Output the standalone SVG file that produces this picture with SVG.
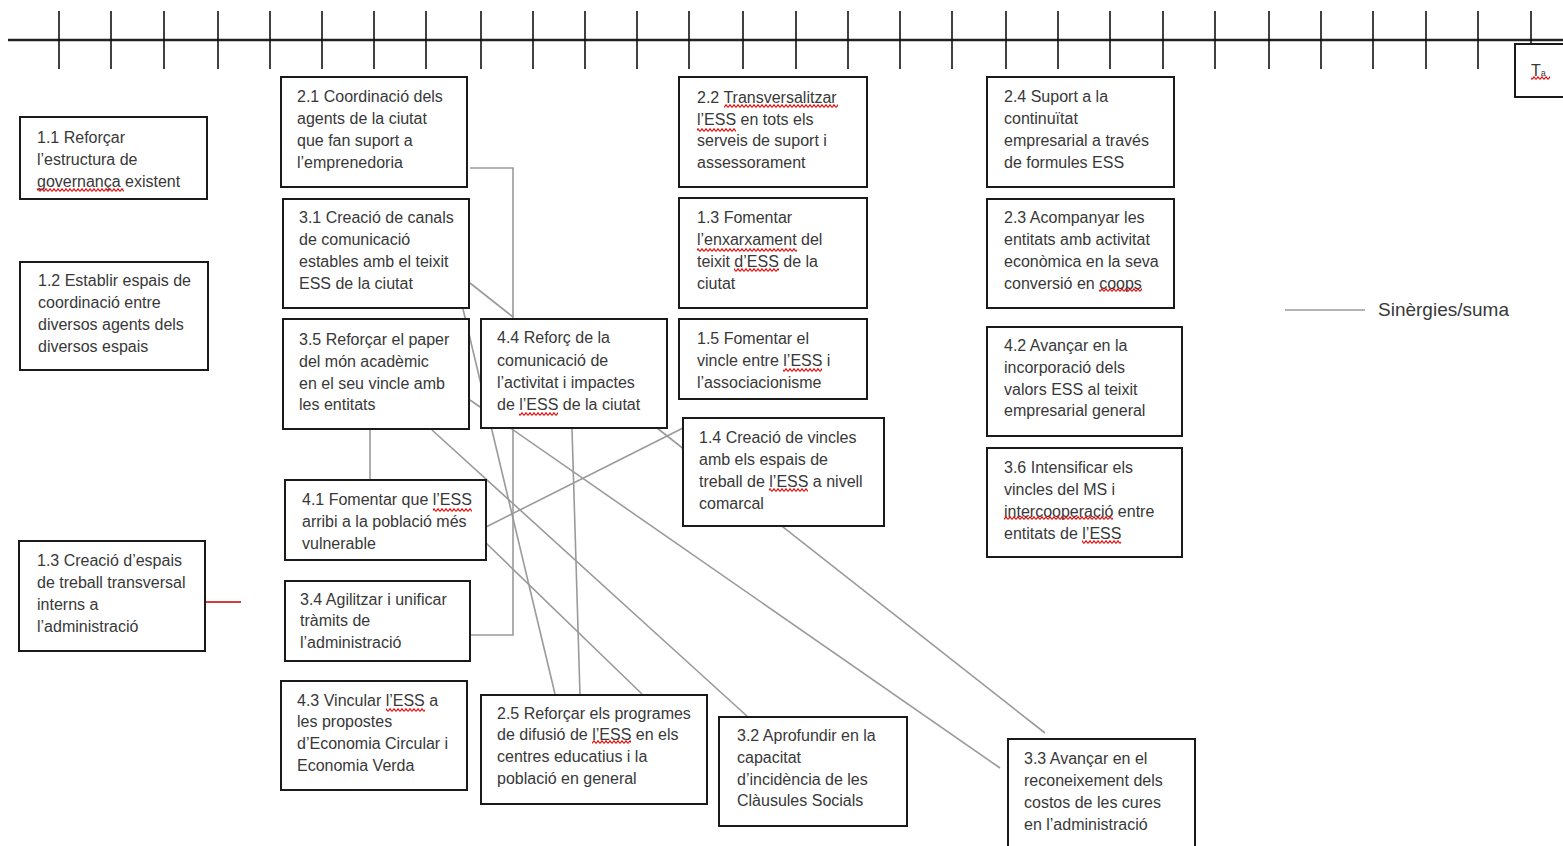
<svg xmlns="http://www.w3.org/2000/svg" width="1563" height="846" viewBox="0 0 1563 846">
<style>
.bg{fill:#ffffff}
.box{fill:#ffffff;stroke:#1a1a1a;stroke-width:2}
.t{font-family:"Liberation Sans",Arial,sans-serif;font-size:16px;fill:#383838}
.lg{font-family:"Liberation Sans",Arial,sans-serif;font-size:19px;fill:#383838}
.tick{stroke:#111;stroke-width:1.6}
.axis{stroke:#222;stroke-width:2.6}
.con{stroke:#9a9a9a;stroke-width:1.6;fill:none}
.red{stroke:#c00000;stroke-width:1.6}
.sq{fill:url(#wave)}
</style>
<defs>
<pattern id="wave" width="4" height="4" patternUnits="userSpaceOnUse">
<path d="M0,3.5 L2,0.8 L4,3.5" stroke="#e01010" stroke-width="1.2" fill="none"/>
</pattern>
</defs>
<rect class="bg" x="0" y="0" width="1563" height="846"/>

<g id="timeline">
<line class="axis" x1="8" y1="40" x2="1563" y2="40"/>
<g class="ticks">
<line class="tick" x1="59" y1="11" x2="59" y2="69"/>
<line class="tick" x1="111" y1="11" x2="111" y2="69"/>
<line class="tick" x1="164" y1="11" x2="164" y2="69"/>
<line class="tick" x1="218" y1="11" x2="218" y2="69"/>
<line class="tick" x1="270" y1="11" x2="270" y2="69"/>
<line class="tick" x1="322" y1="11" x2="322" y2="69"/>
<line class="tick" x1="374" y1="11" x2="374" y2="69"/>
<line class="tick" x1="426" y1="11" x2="426" y2="69"/>
<line class="tick" x1="481" y1="11" x2="481" y2="69"/>
<line class="tick" x1="533" y1="11" x2="533" y2="69"/>
<line class="tick" x1="585" y1="11" x2="585" y2="69"/>
<line class="tick" x1="637" y1="11" x2="637" y2="69"/>
<line class="tick" x1="689" y1="11" x2="689" y2="69"/>
<line class="tick" x1="743" y1="11" x2="743" y2="69"/>
<line class="tick" x1="796" y1="11" x2="796" y2="69"/>
<line class="tick" x1="848" y1="11" x2="848" y2="69"/>
<line class="tick" x1="900" y1="11" x2="900" y2="69"/>
<line class="tick" x1="952" y1="11" x2="952" y2="69"/>
<line class="tick" x1="1006" y1="11" x2="1006" y2="69"/>
<line class="tick" x1="1058" y1="11" x2="1058" y2="69"/>
<line class="tick" x1="1110" y1="11" x2="1110" y2="69"/>
<line class="tick" x1="1163" y1="11" x2="1163" y2="69"/>
<line class="tick" x1="1215" y1="11" x2="1215" y2="69"/>
<line class="tick" x1="1269" y1="11" x2="1269" y2="69"/>
<line class="tick" x1="1321" y1="11" x2="1321" y2="69"/>
<line class="tick" x1="1373" y1="11" x2="1373" y2="69"/>
<line class="tick" x1="1426" y1="11" x2="1426" y2="69"/>
<line class="tick" x1="1478" y1="11" x2="1478" y2="69"/>
<line class="tick" x1="1531" y1="11" x2="1531" y2="45"/>
</g>
</g>

<g id="connectors">
<polyline class="con" points="470,168 513,168 513,318"/>
<line class="con" x1="470" y1="283" x2="513" y2="317"/>
<line class="con" x1="463" y1="309" x2="555" y2="694"/>
<line class="con" x1="470" y1="400" x2="1000" y2="768"/>
<line class="con" x1="370" y1="429" x2="370" y2="480"/>
<line class="con" x1="432" y1="430" x2="748" y2="717"/>
<line class="con" x1="486" y1="527" x2="683" y2="428"/>
<line class="con" x1="486" y1="543" x2="642" y2="694"/>
<polyline class="con" points="470,635 513,635 513,429"/>
<line class="con" x1="572" y1="429" x2="580" y2="695"/>
<line class="con" x1="657" y1="428" x2="1045" y2="733"/>
<line class="red" x1="206" y1="602" x2="241" y2="602"/>
</g>

<g id="n11"><rect class="box" x="20" y="117" width="187" height="82"/>
<text class="t"><tspan x="37" y="143">1.1 Reforçar</tspan><tspan x="37" y="165">l’estructura de</tspan><tspan x="37" y="187">governança existent</tspan></text>
<rect class="sq" x="37" y="188" width="87" height="4"/></g>

<g id="n21"><rect class="box" x="281" y="77" width="186" height="110"/>
<text class="t"><tspan x="297" y="102">2.1 Coordinació dels</tspan><tspan x="297" y="124">agents de la ciutat</tspan><tspan x="297" y="146">que fan suport a</tspan><tspan x="297" y="168">l’emprenedoria</tspan></text></g>

<g id="n31"><rect class="box" x="283" y="199" width="186" height="109"/>
<text class="t"><tspan x="299" y="223">3.1 Creació de canals</tspan><tspan x="299" y="245">de comunicació</tspan><tspan x="299" y="267">estables amb el teixit</tspan><tspan x="299" y="289">ESS de la ciutat</tspan></text></g>

<g id="n12"><rect class="box" x="20" y="262" width="188" height="108"/>
<text class="t"><tspan x="38" y="286">1.2 Establir espais de</tspan><tspan x="38" y="308">coordinació entre</tspan><tspan x="38" y="330">diversos agents dels</tspan><tspan x="38" y="352">diversos espais</tspan></text></g>

<g id="n35"><rect class="box" x="283" y="319" width="186" height="110"/>
<text class="t"><tspan x="299" y="345">3.5 Reforçar el paper</tspan><tspan x="299" y="367">del món acadèmic</tspan><tspan x="299" y="389">en el seu  vincle amb</tspan><tspan x="299" y="410">les entitats</tspan></text></g>

<g id="n44"><rect class="box" x="481" y="319" width="186" height="109"/>
<text class="t"><tspan x="497" y="343">4.4 Reforç de la</tspan><tspan x="497" y="366">comunicació de</tspan><tspan x="497" y="388">l’activitat i impactes</tspan><tspan x="497" y="410">de l’ESS de la ciutat</tspan></text>
<rect class="sq" x="519" y="412" width="39" height="4"/></g>

<g id="n22"><rect class="box" x="679" y="77" width="188" height="110"/>
<text class="t"><tspan x="697" y="103">2.2 Transversalitzar</tspan><tspan x="697" y="125">l’ESS en tots els</tspan><tspan x="697" y="146">serveis de suport i</tspan><tspan x="697" y="168">assessorament</tspan></text>
<rect class="sq" x="724" y="104" width="114" height="4"/>
<rect class="sq" x="697" y="128" width="39" height="4"/></g>

<g id="n13b"><rect class="box" x="679" y="198" width="188" height="110"/>
<text class="t"><tspan x="697" y="223">1.3 Fomentar</tspan><tspan x="697" y="245">l’enxarxament del</tspan><tspan x="697" y="267">teixit d’ESS de la</tspan><tspan x="697" y="289">ciutat</tspan></text>
<rect class="sq" x="697" y="248" width="100" height="4"/>
<rect class="sq" x="734" y="268" width="45" height="4"/></g>

<g id="n15"><rect class="box" x="679" y="319" width="188" height="80"/>
<text class="t"><tspan x="697" y="344">1.5 Fomentar el</tspan><tspan x="697" y="366">vincle entre l’ESS i</tspan><tspan x="697" y="388">l’associacionisme</tspan></text>
<rect class="sq" x="783" y="368" width="39" height="4"/></g>

<g id="n14"><rect class="box" x="683" y="418" width="201" height="108"/>
<text class="t"><tspan x="699" y="443">1.4 Creació de vincles</tspan><tspan x="699" y="465">amb els espais de</tspan><tspan x="699" y="487">treball de l’ESS a nivell</tspan><tspan x="699" y="509">comarcal</tspan></text>
<rect class="sq" x="769" y="488" width="39" height="4"/></g>

<g id="n24"><rect class="box" x="987" y="77" width="187" height="110"/>
<text class="t"><tspan x="1004" y="102">2.4 Suport a la</tspan><tspan x="1004" y="124">continuïtat</tspan><tspan x="1004" y="146">empresarial a través</tspan><tspan x="1004" y="168">de formules ESS</tspan></text></g>

<g id="n23"><rect class="box" x="987" y="199" width="187" height="109"/>
<text class="t"><tspan x="1004" y="223">2.3 Acompanyar les</tspan><tspan x="1004" y="245">entitats amb activitat</tspan><tspan x="1004" y="267">econòmica en la seva</tspan><tspan x="1004" y="289">conversió en coops</tspan></text>
<rect class="sq" x="1099" y="288" width="43" height="4"/></g>

<g id="n42"><rect class="box" x="987" y="327" width="195" height="109"/>
<text class="t"><tspan x="1004" y="351">4.2 Avançar en la</tspan><tspan x="1004" y="373">incorporació dels</tspan><tspan x="1004" y="395">valors ESS al teixit</tspan><tspan x="1004" y="416">empresarial general</tspan></text></g>

<g id="n36"><rect class="box" x="987" y="448" width="195" height="109"/>
<text class="t"><tspan x="1004" y="473">3.6 Intensificar els</tspan><tspan x="1004" y="495">vincles del MS i</tspan><tspan x="1004" y="517">intercooperació entre</tspan><tspan x="1004" y="539">entitats de l’ESS</tspan></text>
<rect class="sq" x="1004" y="516" width="109" height="4"/>
<rect class="sq" x="1082" y="540" width="39" height="4"/></g>

<g id="n41"><rect class="box" x="285" y="480" width="201" height="80"/>
<text class="t"><tspan x="302" y="505">4.1 Fomentar que l’ESS</tspan><tspan x="302" y="527">arribi a la població més</tspan><tspan x="302" y="549">vulnerable</tspan></text>
<rect class="sq" x="433" y="508" width="39" height="4"/></g>

<g id="n13a"><rect class="box" x="19" y="541" width="186" height="110"/>
<text class="t"><tspan x="37" y="566">1.3 Creació d’espais</tspan><tspan x="37" y="588">de treball transversal</tspan><tspan x="37" y="610">interns a</tspan><tspan x="37" y="632">l’administració</tspan></text></g>

<g id="n34"><rect class="box" x="285" y="581" width="185" height="80"/>
<text class="t"><tspan x="300" y="605">3.4 Agilitzar i unificar</tspan><tspan x="300" y="626">tràmits de</tspan><tspan x="300" y="648">l’administració</tspan></text></g>

<g id="n43"><rect class="box" x="281" y="681" width="186" height="109"/>
<text class="t"><tspan x="297" y="706">4.3 Vincular l’ESS a</tspan><tspan x="297" y="727">les propostes</tspan><tspan x="297" y="749">d’Economia Circular i</tspan><tspan x="297" y="771">Economia Verda</tspan></text>
<rect class="sq" x="386" y="708" width="39" height="4"/></g>

<g id="n25"><rect class="box" x="481" y="695" width="226" height="109"/>
<text class="t"><tspan x="497" y="719">2.5 Reforçar els programes</tspan><tspan x="497" y="740">de difusió de l’ESS en els</tspan><tspan x="497" y="762">centres educatius i la</tspan><tspan x="497" y="784">població en general</tspan></text>
<rect class="sq" x="592" y="740" width="39" height="4"/></g>

<g id="n32"><rect class="box" x="719" y="717" width="188" height="109"/>
<text class="t"><tspan x="737" y="741">3.2 Aprofundir en la</tspan><tspan x="737" y="763">capacitat</tspan><tspan x="737" y="785">d’incidència de les</tspan><tspan x="737" y="806">Clàusules Socials</tspan></text></g>

<g id="n33"><rect class="box" x="1008" y="739" width="187" height="120"/>
<text class="t"><tspan x="1024" y="764">3.3 Avançar en el</tspan><tspan x="1024" y="786">reconeixement dels</tspan><tspan x="1024" y="808">costos de les cures</tspan><tspan x="1024" y="830">en l’administració</tspan></text></g>

<g id="nT"><rect class="box" x="1515" y="44" width="60" height="53"/>
<text class="t" x="1531" y="76">T<tspan font-size="9">a</tspan></text>
<rect class="sq" x="1531" y="76" width="19" height="4"/></g>

<g id="legend">
<line class="con" x1="1285" y1="310" x2="1365" y2="310"/>
<text class="lg" x="1378" y="316">Sinèrgies/suma</text>
</g>
</svg>
